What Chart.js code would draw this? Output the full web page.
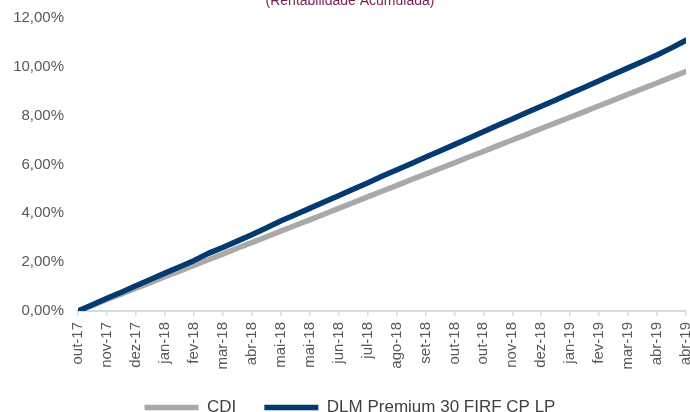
<!DOCTYPE html>
<html>
<head>
<meta charset="utf-8">
<script src="https://cdn.jsdelivr.net/npm/chart.js@4.4.1/dist/chart.umd.min.js"></script>
<style>
  html, body { margin: 0; padding: 0; background: #fff; overflow: hidden; width: 690px; height: 412px; }
  #wrap { position: absolute; left: 0; top: -10px; width: 690px; height: 436px; }
</style>
</head>
<body>
<div id="wrap"><canvas id="chart"></canvas></div>
<script>
// tick labels on the x axis (as printed in the original)
const xLabels = ['out-17', 'nov-17', 'dez-17', 'jan-18', 'fev-18', 'mar-18', 'abr-18', 'mai-18',
  'mai-18', 'jun-18', 'jul-18', 'ago-18', 'set-18', 'out-18', 'out-18', 'nov-18', 'dez-18',
  'jan-19', 'fev-19', 'mar-19', 'abr-19', 'abr-19'];

// accumulated return (%), read every half tick interval
const dlmValues = [0.00, 0.26, 0.52, 0.77, 1.03, 1.29, 1.55, 1.80, 2.06, 2.36, 2.60, 2.86, 3.12,
  3.40, 3.68, 3.94, 4.20, 4.46, 4.72, 4.98, 5.24, 5.51, 5.77, 6.03, 6.29, 6.55, 6.81, 7.07,
  7.34, 7.60, 7.86, 8.12, 8.38, 8.64, 8.90, 9.16, 9.42, 9.69, 9.95, 10.21, 10.48, 10.77, 11.08];

const cdiValues = [0.00, 0.23, 0.47, 0.70, 0.93, 1.16, 1.40, 1.63, 1.86, 2.10, 2.33, 2.57, 2.80,
  3.03, 3.27, 3.50, 3.73, 3.96, 4.20, 4.43, 4.67, 4.90, 5.13, 5.37, 5.60, 5.83, 6.06, 6.30,
  6.53, 6.77, 7.00, 7.23, 7.47, 7.70, 7.93, 8.16, 8.40, 8.63, 8.87, 9.10, 9.33, 9.57, 9.80];

const colors = {
  navy: '#033a6f',
  gray: '#a9a9a9',
  text: '#595959',
  axis: '#d9d9d9',
  title: '#7a1f4c'
};

const toPoints = (values) => values.map((v, i) => ({ x: i / 2, y: v }));

new Chart(document.getElementById('chart'), {
  type: 'line',
  data: {
    datasets: [
      {
        label: 'DLM Premium 30 FIRF CP LP',
        data: toPoints(dlmValues),
        borderColor: colors.navy,
        backgroundColor: colors.navy,
        borderWidth: 5.5,
        borderCapStyle: 'round',
        borderJoinStyle: 'round',
        pointRadius: 0,
        pointStyle: 'line',
        tension: 0
      },
      {
        label: 'CDI',
        data: toPoints(cdiValues),
        borderColor: colors.gray,
        backgroundColor: colors.gray,
        borderWidth: 5.5,
        borderCapStyle: 'round',
        borderJoinStyle: 'round',
        pointRadius: 0,
        pointStyle: 'line',
        tension: 0
      }
    ]
  },
  options: {
    responsive: true,
    maintainAspectRatio: false,
    animation: false,
    layout: { padding: { left: 10, right: 0, top: 0, bottom: 0 } },
    plugins: {
      title: {
        display: true,
        text: '(Rentabilidade Acumulada)',
        color: colors.title,
        font: { family: 'Liberation Sans', size: 14, weight: 'normal' },
        padding: { top: 3, bottom: 8 }
      },
      legend: {
        position: 'bottom',
        labels: {
          usePointStyle: true,
          pointStyleWidth: 54,
          padding: 28,
          color: '#404040',
          font: { family: 'Liberation Sans', size: 17 },
          sort: (a, b) => b.datasetIndex - a.datasetIndex
        }
      },
      tooltip: { enabled: false }
    },
    scales: {
      x: {
        type: 'linear',
        min: 0,
        max: xLabels.length - 1,
        afterFit: (scale) => { scale.height = 60; scale.paddingRight = 4; },
        grid: { drawOnChartArea: false, drawTicks: true, tickLength: 5, color: colors.axis, lineWidth: 1.5 },
        border: { display: true, color: colors.axis, width: 2 },
        ticks: {
          stepSize: 1,
          autoSkip: false,
          minRotation: 90,
          maxRotation: 90,
          padding: 6,
          color: colors.text,
          font: { family: 'Liberation Sans', size: 15 },
          callback: (v) => xLabels[v]
        }
      },
      y: {
        min: 0,
        max: 12,
        afterFit: (scale) => { scale.width = 68; },
        grid: { display: false, drawTicks: false },
        border: { display: false },
        ticks: {
          stepSize: 2,
          padding: 14,
          color: colors.text,
          font: { family: 'Liberation Sans', size: 15 },
          callback: (v) => v.toFixed(2).replace('.', ',') + '%'
        }
      }
    }
  }
});
</script>
</body>
</html>
